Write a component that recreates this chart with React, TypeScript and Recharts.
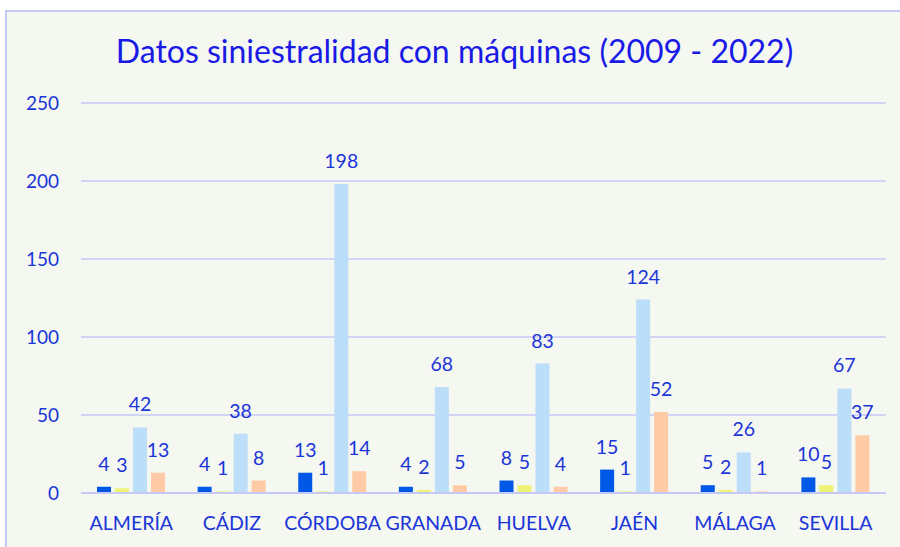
import { Bar, BarChart, CartesianGrid, LabelList, XAxis, YAxis } from 'recharts';

const provincias = ['ALMERÍA', 'CÁDIZ', 'CÓRDOBA', 'GRANADA', 'HUELVA', 'JAÉN', 'MÁLAGA', 'SEVILLA'];
const serie1 = [4, 4, 13, 4, 8, 15, 5, 10];
const serie2 = [3, 1, 1, 2, 5, 1, 2, 5];
const serie3 = [42, 38, 198, 68, 83, 124, 26, 67];
const serie4 = [13, 8, 14, 5, 4, 52, 1, 37];
const yTicks = [0, 50, 100, 150, 200, 250];

const SERIES = [
    { key: 's1', values: serie1, color: '#0058E6' },
    { key: 's2', values: serie2, color: '#EEF373' },
    { key: 's3', values: serie3, color: '#BDDEF9' },
    { key: 's4', values: serie4, color: '#FFCBA6' },
];

const FONT = 'Lato, "Noto Sans", sans-serif';
const TEXT_BLUE = '#1A35D8';
const GRID = '#C5C9F5';

export default function App() {
    const data = provincias.map((name, i) => {
        const row: Record<string, string | number> = { name };
        SERIES.forEach((s) => {
            row[s.key] = s.values[i];
        });
        return row;
    });

    return (
        <div
            style={{
                position: 'absolute',
                left: 5,
                top: 10,
                width: 895,
                height: 537,
                background: '#F5F7F1',
                borderLeft: `2px solid ${GRID}`,
                borderTop: `2px solid ${GRID}`,
                boxSizing: 'border-box',
                fontFamily: FONT,
            }}
        >
            <div
                style={{
                    position: 'absolute',
                    top: 19,
                    left: 0,
                    width: 895,
                    textAlign: 'center',
                    fontSize: 32,
                    color: '#1A1AE6',
                }}
            >
                Datos siniestralidad con máquinas (2009 - 2022)
            </div>
            <BarChart
                width={893}
                height={535}
                data={data}
                margin={{ top: 91, right: 14, bottom: 24, left: 0 }}
                barSize={14}
                barGap={4}
            >
                <CartesianGrid vertical={false} stroke={GRID} strokeWidth={1.5} />
                <XAxis
                    dataKey="name"
                    tickLine={false}
                    tickSize={0}
                    tickMargin={23}
                    axisLine={{ stroke: GRID, strokeWidth: 2 }}
                    tick={{ fill: TEXT_BLUE, fontSize: 19.5, fontFamily: FONT }}
                    interval={0}
                />
                <YAxis
                    domain={[0, 250]}
                    ticks={yTicks}
                    width={74}
                    tickLine={false}
                    tickSize={0}
                    tickMargin={22}
                    axisLine={false}
                    tick={{ fill: TEXT_BLUE, fontSize: 19, fontFamily: FONT }}
                />
                {SERIES.map((s) => (
                    <Bar key={s.key} dataKey={s.key} fill={s.color} isAnimationActive={false}>
                        <LabelList
                            dataKey={s.key}
                            position="top"
                            offset={16}
                            fill={TEXT_BLUE}
                            fontSize={19.5}
                            fontFamily={FONT}
                        />
                    </Bar>
                ))}
            </BarChart>
        </div>
    );
}
